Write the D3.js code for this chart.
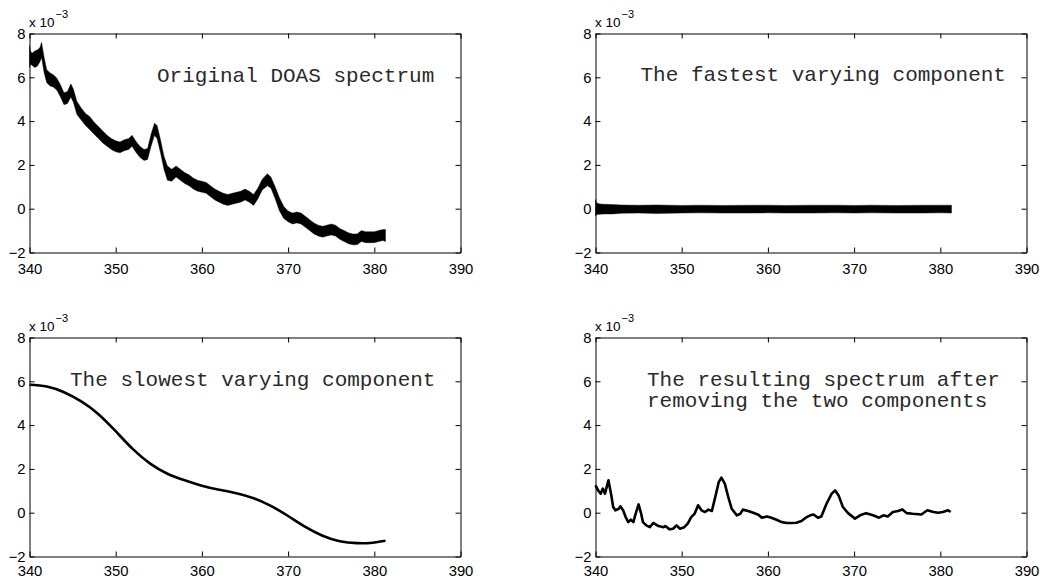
<!DOCTYPE html>
<html><head><meta charset="utf-8">
<script src="https://cdn.jsdelivr.net/npm/d3@7"></script>
<style>
html,body{margin:0;padding:0;background:#fff;}
svg{display:block;}
</style></head>
<body>
<script>
// ---------- data (values in units of 1e-3) ----------
const xTicks = [340, 350, 360, 370, 380, 390];
const yTicks = [-2, 0, 2, 4, 6, 8];
const yTickLabels = ["\u22122", "0", "2", "4", "6", "8"];
const xDomain = [340, 390];
const yDomain = [-2, 8];

const titles1 = ["Original DOAS spectrum"];
const titles2 = ["The fastest varying component"];
const titles3 = ["The slowest varying component"];
const titles4 = ["The resulting spectrum after", "removing the two components"];

// Panel 1: original spectrum (noisy band, upper / lower envelope)
const origX  = [340.0,340.1,340.3,340.6,340.9,341.2,341.4,341.7,342.0,342.4,342.8,343.2,343.6,344.0,344.4,344.8,345.1,345.5,346.0,346.5,347.0,347.5,348.0,348.5,349.0,349.5,350.0,350.5,351.0,351.5,351.9,352.3,352.8,353.3,353.7,354.1,354.5,354.8,355.2,355.6,356.0,356.5,357.0,357.5,358.0,358.5,359.0,359.5,360.0,360.5,361.0,361.5,362.0,362.5,363.0,363.5,364.0,364.5,365.0,365.5,366.0,366.5,367.0,367.6,368.0,368.5,369.0,369.5,370.0,370.5,371.0,371.5,372.0,372.5,373.0,373.5,374.0,374.5,375.0,375.5,376.0,376.5,377.0,377.5,378.0,378.5,379.0,379.5,380.0,380.5,381.0,381.3];
const origHi = [7.45,7.2,7.1,7.2,7.25,7.35,7.6,6.9,6.35,6.2,6.1,5.95,5.65,5.3,5.35,5.7,5.45,4.9,4.6,4.35,4.2,3.95,3.75,3.55,3.35,3.2,3.1,3.05,3.15,3.2,3.35,3.1,2.85,2.7,2.75,3.4,3.9,3.8,3.15,2.4,1.95,1.8,1.95,1.8,1.65,1.55,1.4,1.3,1.25,1.2,1.05,0.9,0.8,0.7,0.65,0.7,0.75,0.8,0.9,0.8,0.65,0.95,1.35,1.6,1.45,1.0,0.5,0.1,-0.1,-0.2,-0.15,-0.2,-0.35,-0.5,-0.65,-0.75,-0.8,-0.75,-0.7,-0.75,-0.9,-1.0,-1.1,-1.15,-1.15,-1.0,-1.05,-1.05,-1.05,-1.0,-0.95,-0.95];
const origLo = [6.45,6.6,6.55,6.45,6.5,6.7,6.9,6.2,5.75,5.6,5.55,5.4,5.1,4.75,4.8,5.1,4.85,4.3,4.05,3.8,3.6,3.4,3.2,3.0,2.85,2.7,2.6,2.55,2.65,2.7,2.85,2.6,2.35,2.2,2.25,2.85,3.35,3.2,2.55,1.8,1.3,1.25,1.45,1.3,1.15,1.05,0.9,0.8,0.75,0.7,0.55,0.4,0.3,0.2,0.15,0.2,0.25,0.3,0.4,0.3,0.15,0.45,0.85,1.05,0.95,0.45,-0.1,-0.45,-0.6,-0.7,-0.65,-0.7,-0.85,-1.0,-1.15,-1.25,-1.3,-1.25,-1.2,-1.25,-1.4,-1.5,-1.6,-1.65,-1.65,-1.5,-1.55,-1.55,-1.55,-1.5,-1.45,-1.5];

// Panel 2: fastest varying component (noise band envelope)
const fastX  = [340.0,340.15,340.5,341.0,342.0,343.0,345.0,347.0,350.0,352.0,355.0,358.0,360.0,362.0,365.0,368.0,370.0,372.0,375.0,378.0,380.0,381.3];
const fastHi = [0.42,0.26,0.22,0.2,0.19,0.17,0.16,0.17,0.15,0.16,0.15,0.16,0.16,0.15,0.16,0.16,0.15,0.16,0.15,0.16,0.16,0.16];
const fastLo = [-0.33,-0.26,-0.25,-0.24,-0.24,-0.21,-0.2,-0.22,-0.2,-0.19,-0.2,-0.2,-0.19,-0.2,-0.2,-0.19,-0.2,-0.19,-0.2,-0.2,-0.19,-0.2];

// Panel 3: slowest varying component
const slowX = [340.0,342.0,344.0,346.0,348.0,350.0,352.0,354.0,356.0,358.0,360.0,362.0,364.0,366.0,368.0,370.0,372.0,374.0,376.0,378.0,379.5,381.3];
const slowY = [5.84,5.76,5.50,5.08,4.50,3.72,2.90,2.24,1.78,1.48,1.23,1.05,0.89,0.66,0.31,-0.15,-0.65,-1.05,-1.30,-1.39,-1.38,-1.28];

// Panel 4: resulting spectrum
const resX = [340.0,340.3,340.6,340.85,341.1,341.5,341.8,342.05,342.3,342.7,342.9,343.2,343.5,343.8,344.1,344.4,344.6,345.0,345.3,345.5,345.9,346.3,346.7,347.3,347.9,348.1,348.6,349.0,349.4,349.8,350.3,350.7,351.1,351.5,351.9,352.3,352.7,353.1,353.5,353.9,354.3,354.6,355.0,355.4,355.8,356.4,356.8,357.1,357.7,358.3,358.9,359.3,359.9,360.4,361.0,361.6,362.2,362.7,363.3,363.9,364.5,364.9,365.3,365.8,366.2,366.8,367.4,367.8,368.2,368.7,369.3,370.1,370.7,371.4,372.2,372.9,373.4,373.9,374.5,375.1,375.6,376.1,376.8,377.8,378.5,379.2,379.75,380.3,380.9,381.2];
const resY = [1.25,1.02,0.87,1.10,0.87,1.48,0.87,0.26,0.11,0.18,0.29,0.11,-0.20,-0.43,-0.32,-0.43,-0.12,0.38,-0.05,-0.43,-0.58,-0.66,-0.47,-0.61,-0.66,-0.61,-0.76,-0.73,-0.58,-0.73,-0.66,-0.50,-0.20,-0.05,0.34,0.11,0.03,0.14,0.08,0.72,1.40,1.60,1.33,0.72,0.18,-0.12,-0.05,0.14,0.08,0.0,-0.09,-0.23,-0.17,-0.23,-0.32,-0.43,-0.47,-0.47,-0.46,-0.38,-0.20,-0.12,-0.08,-0.23,-0.17,0.41,0.87,1.02,0.79,0.26,-0.02,-0.27,-0.12,-0.02,-0.12,-0.23,-0.12,-0.17,0.03,0.08,0.15,-0.02,-0.05,-0.08,0.11,0.03,0.0,0.03,0.11,0.03];

// ---------- layout ----------
const W = 1044, H = 579;
const panels = [
  {l: 29.5,  r: 460.5,  t: 33.5,  b: 252.5, pad: 10.5, kind: "band", X: origX, hi: origHi, lo: origLo, titles: titles1, tx: 157,   ty: 82},
  {l: 595.5, r: 1026.5, t: 33.5,  b: 252.5, pad: 10.5, kind: "band", X: fastX, hi: fastHi, lo: fastLo, titles: titles2, tx: 640.5, ty: 81},
  {l: 29.5,  r: 460.5,  t: 337.5, b: 556.5, pad: 8.6,  kind: "line", X: slowX, Y: slowY, curve: d3.curveNatural, titles: titles3, tx: 70, ty: 385.7},
  {l: 595.5, r: 1026.5, t: 337.5, b: 556.5, pad: 8.6,  kind: "line", X: resX, Y: resY, curve: d3.curveLinear, titles: titles4, tx: 647, ty: 385.7}
];

const svg = d3.select("body").append("svg").attr("width", W).attr("height", H);
svg.append("rect").attr("width", W).attr("height", H).attr("fill", "#fff");

const sansFont = "'Liberation Sans', Arial, Helvetica, sans-serif";
const monoFont = "'Liberation Mono', 'Courier New', Courier, monospace";

panels.forEach(p => {
  const x = d3.scaleLinear().domain(xDomain).range([p.l, p.r]);
  const y = d3.scaleLinear().domain(yDomain).range([p.b, p.t]);
  const g = svg.append("g");

  // data
  const idx = d3.range(p.X.length);
  if (p.kind === "band") {
    const area = d3.area()
      .x(i => x(p.X[i]))
      .y0(i => y(p.lo[i]))
      .y1(i => y(p.hi[i]))
      .curve(d3.curveLinear);
    g.append("path").datum(idx).attr("d", area)
      .attr("fill", "#000").attr("stroke", "#000").attr("stroke-width", 0.4);
  } else {
    const line = d3.line().x(i => x(p.X[i])).y(i => y(p.Y[i])).curve(p.curve);
    g.append("path").datum(idx).attr("d", line)
      .attr("fill", "none").attr("stroke", "#000").attr("stroke-width", 2.6)
      .attr("stroke-linejoin", "round").attr("stroke-linecap", "butt");
  }

  // axes (inward ticks on all four sides)
  const tl = 5;
  const axB = g.append("g").attr("transform", `translate(0,${p.b})`)
    .call(d3.axisBottom(x).tickValues(xTicks).tickSizeInner(-tl).tickSizeOuter(0).tickPadding(p.pad).tickFormat(d3.format("d")));
  const axT = g.append("g").attr("transform", `translate(0,${p.t})`)
    .call(d3.axisTop(x).tickValues(xTicks).tickSizeInner(-tl).tickSizeOuter(0).tickFormat(""));
  const axL = g.append("g").attr("transform", `translate(${p.l},0)`)
    .call(d3.axisLeft(y).tickValues(yTicks).tickSizeInner(-tl).tickSizeOuter(0).tickPadding(4)
      .tickFormat((d, i) => yTickLabels[i]));
  const axR = g.append("g").attr("transform", `translate(${p.r},0)`)
    .call(d3.axisRight(y).tickValues(yTicks).tickSizeInner(-tl).tickSizeOuter(0).tickFormat(""));
  [axB, axT, axL, axR].forEach(a => {
    a.selectAll("path.domain").attr("stroke", "#000").attr("stroke-width", 1);
    a.selectAll(".tick line").attr("stroke", "#000").attr("stroke-width", 1);
    a.selectAll("text").attr("font-family", sansFont).attr("font-size", 14.8).attr("fill", "#000");
  });

  // exponent label
  const ex = g.append("text").attr("x", p.l - 0.5).attr("y", p.t - 6.8)
    .attr("font-family", sansFont).attr("font-size", 13.5).attr("fill", "#000");
  ex.append("tspan").text("x 10");
  ex.append("tspan").attr("dx", 1).attr("dy", -9).attr("font-size", 11).text("\u22123");

  // annotation text
  p.titles.forEach((s, i) => {
    g.append("text").attr("x", p.tx).attr("y", p.ty + i * 21.6)
      .attr("font-family", monoFont).attr("font-size", 21).attr("fill", "#2a2a2a")
      .attr("xml:space", "preserve").style("white-space", "pre")
      .text(s);
  });
});
</script>
</body></html>
